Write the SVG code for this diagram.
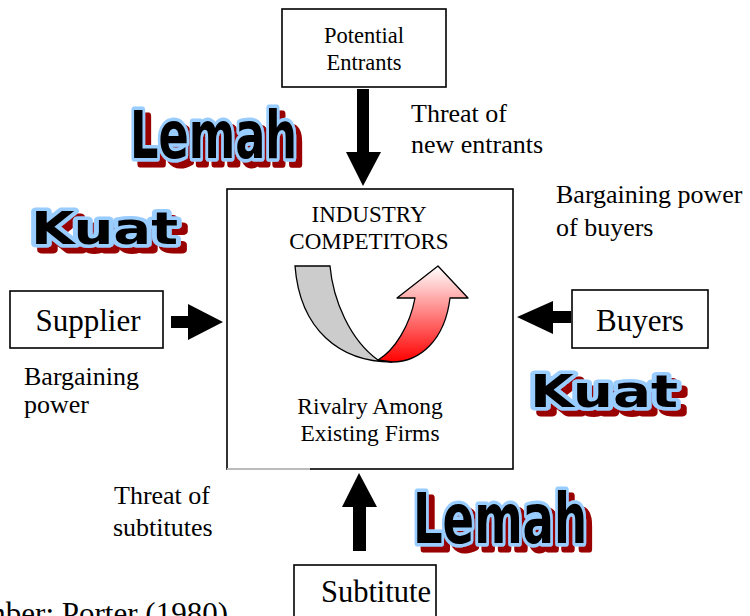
<svg xmlns="http://www.w3.org/2000/svg" width="750" height="616" viewBox="0 0 750 616">
<defs>
<style>
.box{fill:#fff;stroke:#000;stroke-width:1.6}
.t{font-family:"Liberation Serif","Times New Roman",serif;fill:#000}
.wa{font-family:"DejaVu Sans Condensed","DejaVu Sans",sans-serif;font-weight:bold;stroke-linejoin:round;fill:#000;stroke:#99ccff;stroke-width:7;paint-order:stroke;filter:url(#shadow)}
.arr{fill:#000}
</style>
<filter id="shadow" x="-20%" y="-40%" width="150%" height="190%">
<feOffset in="SourceAlpha" dx="6" dy="6" result="o"/>
<feFlood flood-color="#990000"/>
<feComposite in2="o" operator="in" result="s"/>
<feMerge><feMergeNode in="s"/><feMergeNode in="SourceGraphic"/></feMerge>
</filter>
<linearGradient id="redg" x1="0" y1="0" x2="0" y2="1">
<stop offset="0" stop-color="#ffffff"/>
<stop offset="1" stop-color="#ff0000"/>
</linearGradient>
</defs>
<rect width="750" height="616" fill="#fff"/>

<g id="potential-entrants">
<rect class="box" x="282" y="9" width="164" height="78"/>
<text class="t" x="364" y="43" font-size="22.5" text-anchor="middle">Potential</text>
<text class="t" x="364" y="70" font-size="22.5" text-anchor="middle">Entrants</text>
</g>

<g id="industry-competitors">
<rect class="box" x="227" y="189" width="286" height="280"/>
<line x1="227" y1="469" x2="310" y2="469" stroke="#bbb" stroke-width="1.8"/>
<text class="t" x="369" y="222" font-size="23" text-anchor="middle">INDUSTRY</text>
<text class="t" x="369" y="249" font-size="23" text-anchor="middle">COMPETITORS</text>
<path d="M295,266 L330,266 C333,300 350,340 378,360 L392,362 C340,362 300,330 295,266 Z" fill="#cccccc" stroke="#000" stroke-width="1.3"/>
<path d="M378,360 C395,350 410,325 415,298 L397,298 L438,266 L468,298 L450,298 C445,340 420,362 392,362 Z" fill="url(#redg)" stroke="#000" stroke-width="1.3" stroke-linejoin="round"/>
<text class="t" x="370" y="414" font-size="23.5" text-anchor="middle">Rivalry Among</text>
<text class="t" x="370" y="441" font-size="23.5" text-anchor="middle">Existing Firms</text>
</g>

<g id="supplier">
<rect class="box" x="10" y="291" width="153" height="57"/>
<text class="t" x="88" y="331" font-size="31" text-anchor="middle">Supplier</text>
</g>

<g id="buyers">
<rect class="box" x="572" y="290" width="136" height="58"/>
<text class="t" x="640" y="331" font-size="31" text-anchor="middle">Buyers</text>
</g>

<g id="subtitute">
<rect class="box" x="294" y="565" width="142" height="80"/>
<text class="t" x="376" y="602" font-size="30.5" text-anchor="middle">Subtitute</text>
</g>

<g id="connectors">
<polygon class="arr" points="357,89 369,89 369,152 381,152 363,186 346,152 357,152"/>
<polygon class="arr" points="171,316 188,316 188,304 223,322 188,340 188,328 171,328"/>
<polygon class="arr" points="571,311 553,311 553,301 517,317 553,334 553,323 571,323"/>
<polygon class="arr" points="353,551 366,551 366,507 377,507 359,473 342,507 353,507"/>
</g>

<g id="labels">
<text class="t" x="411" y="122" font-size="26">Threat of</text>
<text class="t" x="411" y="153" font-size="26">new entrants</text>
<text class="t" x="556" y="203" font-size="26">Bargaining power</text>
<text class="t" x="556" y="236" font-size="26">of buyers</text>
<text class="t" x="24" y="385" font-size="26">Bargaining</text>
<text class="t" x="24" y="413" font-size="26">power</text>
<text class="t" x="114" y="504" font-size="26">Threat of</text>
<text class="t" x="113" y="536" font-size="26">subtitutes</text>
<text class="t" x="-51" y="624" font-size="31">Sumber: Porter (1980)</text>
</g>

<g id="wordart-lemah-top">
<text class="wa" x="130" y="158" font-size="66" textLength="167" lengthAdjust="spacingAndGlyphs">Lemah</text>
</g>
<g id="wordart-kuat-left">
<text class="wa" x="31" y="244" font-size="44" textLength="147" lengthAdjust="spacingAndGlyphs">Kuat</text>
</g>
<g id="wordart-kuat-right">
<text class="wa" x="530" y="407" font-size="45" textLength="148" lengthAdjust="spacingAndGlyphs">Kuat</text>
</g>
<g id="wordart-lemah-bottom">
<text class="wa" x="413" y="543" font-size="69" textLength="174" lengthAdjust="spacingAndGlyphs">Lemah</text>
</g>
</svg>
